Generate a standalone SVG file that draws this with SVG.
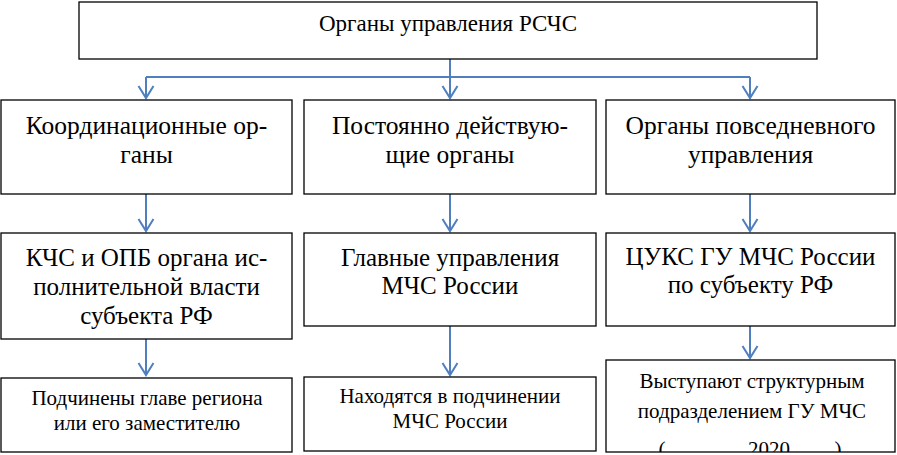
<svg xmlns="http://www.w3.org/2000/svg" width="897" height="455" viewBox="0 0 897 455">
<style>
.box{fill:#fff;stroke:#000;stroke-width:1.3}
.c{fill:none;stroke:#4f7fbf;stroke-width:2}
.t{font-family:"Liberation Serif","Times New Roman",serif;fill:#000;text-anchor:middle}
.t1{font-size:23px}
.t2{font-size:25.5px}
.t3{font-size:25px}
.t4{font-size:21px}
</style>
<defs>
<marker id="ah" markerUnits="userSpaceOnUse" markerWidth="20" markerHeight="20" refX="12" refY="0" viewBox="-2 -10 16 20" orient="auto" overflow="visible">
<path d="M0,-7.5 L12,0 L0,7.5" fill="none" stroke="#4f7fbf" stroke-width="2"/>
</marker>
<clipPath id="clip4"><rect x="606" y="360" width="289" height="92"/></clipPath>
</defs>
<rect width="897" height="455" fill="#fff"/>
<g id="connectors">
<path class="c" d="M450,59 V77"/>
<path class="c" d="M146,77 H750"/>
<path class="c" d="M146,77 V98" marker-end="url(#ah)"/>
<path class="c" d="M450,77 V98" marker-end="url(#ah)"/>
<path class="c" d="M750,77 V98" marker-end="url(#ah)"/>
<path class="c" d="M146,194 V231" marker-end="url(#ah)"/>
<path class="c" d="M450,194 V231" marker-end="url(#ah)"/>
<path class="c" d="M750,194 V231" marker-end="url(#ah)"/>
<path class="c" d="M146,339 V375" marker-end="url(#ah)"/>
<path class="c" d="M450,326 V375" marker-end="url(#ah)"/>
<path class="c" d="M750,326 V358" marker-end="url(#ah)"/>
</g>
<g id="root">
<rect class="box" x="79" y="2" width="738" height="57"/>
<text class="t t1" x="448" y="31">Органы управления РСЧС</text>
</g>
<g id="coord">
<rect class="box" x="1" y="100" width="291" height="94"/>
<text class="t t2" x="146.5" y="134">Координационные ор-</text>
<text class="t t2" x="146.5" y="163">ганы</text>
</g>
<g id="perm">
<rect class="box" x="304" y="100" width="292" height="94"/>
<text class="t t2" x="450" y="134">Постоянно действую-</text>
<text class="t t2" x="450" y="163">щие органы</text>
</g>
<g id="daily">
<rect class="box" x="606" y="100" width="289" height="94"/>
<text class="t t2" x="750.5" y="134">Органы повседневного</text>
<text class="t t2" x="750.5" y="163">управления</text>
</g>
<g id="kchs">
<rect class="box" x="1" y="233" width="291" height="106"/>
<text class="t t3" x="146.5" y="266">КЧС и ОПБ органа ис-</text>
<text class="t t3" x="146.5" y="295">полнительной власти</text>
<text class="t t3" x="146.5" y="324">субъекта РФ</text>
</g>
<g id="gu">
<rect class="box" x="304" y="233" width="292" height="93"/>
<text class="t t3" x="450" y="266">Главные управления</text>
<text class="t t3" x="450" y="294">МЧС России</text>
</g>
<g id="tsuks">
<rect class="box" x="606" y="233" width="289" height="93"/>
<text class="t t3" x="750.5" y="265">ЦУКС ГУ МЧС России</text>
<text class="t t3" x="750.5" y="293">по субъекту РФ</text>
</g>
<g id="sub1">
<rect class="box" x="1" y="378" width="291" height="74"/>
<text class="t t4" x="147" y="405">Подчинены главе региона</text>
<text class="t t4" x="147" y="430">или его заместителю</text>
</g>
<g id="sub2">
<rect class="box" x="304" y="377" width="292" height="74"/>
<text class="t t4" x="450" y="403">Находятся в подчинении</text>
<text class="t t4" x="450" y="428">МЧС России</text>
</g>
<g id="sub3">
<rect class="box" x="606" y="360" width="289" height="92"/>
<text class="t t4" x="752" y="388">Выступают структурным</text>
<text class="t t4" x="752" y="418">подразделением ГУ МЧС</text>
<g clip-path="url(#clip4)">
<text class="t t4" x="662" y="456">(</text>
<text class="t t4" x="769" y="456">2020</text>
<text class="t t4" x="838" y="456">)</text>
</g>
</g>
</svg>
